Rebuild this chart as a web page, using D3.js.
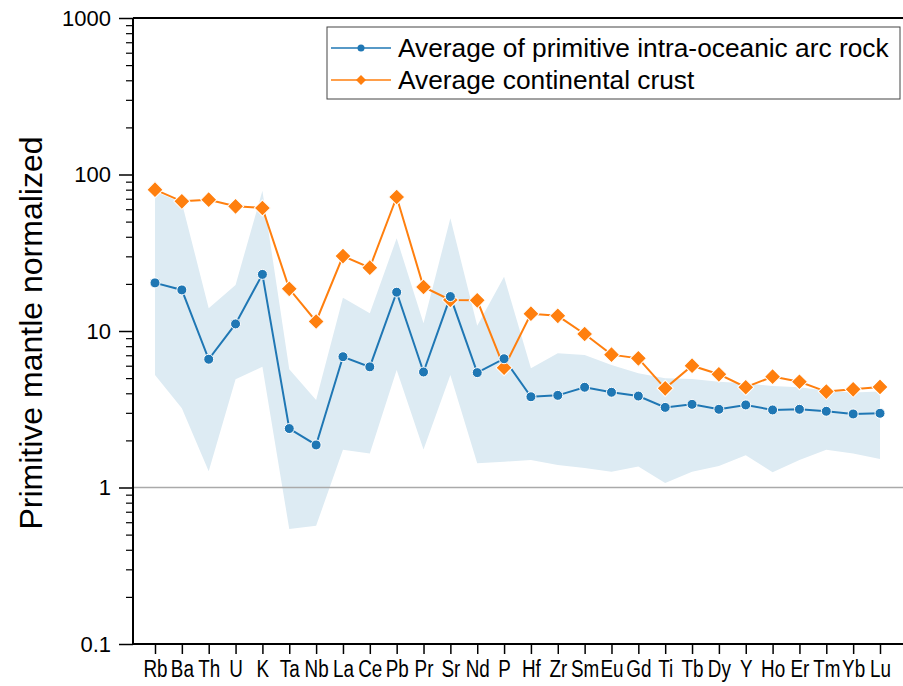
<!DOCTYPE html>
<html><head><meta charset="utf-8">
<script src="https://cdn.jsdelivr.net/npm/d3@7"></script>
<style>body{margin:0;background:#fff;} svg{display:block;}</style>
</head><body>
<svg id="chart" width="903" height="686"></svg>
<script>
const elements = ["Rb","Ba","Th","U","K","Ta","Nb","La","Ce","Pb","Pr","Sr","Nd","P","Hf","Zr","Sm","Eu","Gd","Ti","Tb","Dy","Y","Ho","Er","Tm","Yb","Lu"];
const arcAvg = [20.3,18.3,6.6,11.1,23.0,2.38,1.87,6.85,5.9,17.7,5.47,16.6,5.42,6.65,3.80,3.88,4.37,4.06,3.84,3.25,3.40,3.16,3.37,3.13,3.16,3.07,2.95,2.98];
const crustAvg = [80,67.4,69,62.6,61.1,18.6,11.5,30.1,25.4,71.8,19.1,15.8,15.7,5.83,12.9,12.5,9.57,7.06,6.69,4.30,6.0,5.29,4.37,5.11,4.74,4.10,4.24,4.39];
const arcUpper = [78,66,14.0,19.7,78.8,5.7,3.62,16.3,13.0,39.1,11.2,52.5,10.8,22.2,5.78,7.2,7.03,6.06,5.37,4.99,4.94,4.74,4.63,4.45,4.37,4.15,4.04,4.10];
const arcLower = [5.23,3.21,1.27,4.91,5.91,0.543,0.570,1.74,1.65,5.63,1.75,5.23,1.43,1.46,1.50,1.39,1.33,1.26,1.36,1.07,1.26,1.37,1.61,1.25,1.50,1.74,1.65,1.52];
const yTicks = [0.1,1,10,100,1000];
const seriesNames = ["Average of primitive intra-oceanic arc rock","Average continental crust"];

const svg = d3.select("#chart");
const mLeft = 133, mTop = 18, mBottom = 644, mRight = 930;
const x = d3.scalePoint().domain(elements).range([155, 880]);
const y = d3.scaleLog().domain([0.1, 1000]).range([mBottom, mTop]);
const blue = "#1f77b4", orange = "#ff7f0e";
const FONT = "'Liberation Sans', Arial, sans-serif";

// band
const band = d3.area().x((d,i)=>x(elements[i])).y0((d,i)=>y(arcLower[i])).y1((d,i)=>y(arcUpper[i]));
svg.append("path").attr("d", band(elements)).attr("fill", "#ddebf3");

// reference line at 1
svg.append("line").attr("x1", mLeft).attr("x2", mRight).attr("y1", y(1)).attr("y2", y(1))
  .attr("stroke", "#aaaaaa").attr("stroke-width", 1.5);

// lines
const line = arr => d3.line().x((d,i)=>x(elements[i])).y((d,i)=>y(arr[i]))(elements);
svg.append("path").attr("d", line(crustAvg)).attr("fill","none").attr("stroke",orange).attr("stroke-width",2);
svg.append("path").attr("d", line(arcAvg)).attr("fill","none").attr("stroke",blue).attr("stroke-width",2);

// markers
svg.append("g").selectAll("path").data(crustAvg).join("path")
  .attr("d", d3.symbol().type(d3.symbolSquare).size(130)())
  .attr("transform", (d,i)=>`translate(${x(elements[i])},${y(d)}) rotate(45)`)
  .attr("fill", orange).attr("stroke","#fff").attr("stroke-width",1);
svg.append("g").selectAll("circle").data(arcAvg).join("circle")
  .attr("cx", (d,i)=>x(elements[i])).attr("cy", d=>y(d)).attr("r", 5)
  .attr("fill", blue).attr("stroke","#fff").attr("stroke-width",1);

// frame
svg.append("line").attr("x1", mLeft).attr("x2", mRight).attr("y1", mTop).attr("y2", mTop).attr("stroke","#000").attr("stroke-width",2);
svg.append("line").attr("x1", mLeft).attr("x2", mRight).attr("y1", mBottom).attr("y2", mBottom).attr("stroke","#000").attr("stroke-width",2);

// y axis
const minor = [];
for (let e = -1; e < 3; e++) for (let k = 2; k < 10; k++) minor.push(k * Math.pow(10, e));
const yAxis = d3.axisLeft(y).tickValues(yTicks).tickSize(14).tickPadding(8).tickFormat(d => d < 1 ? "0.1" : d3.format("d")(d));
const gy = svg.append("g").attr("transform", `translate(${mLeft},0)`).call(yAxis);
gy.select(".domain").attr("stroke-width", 2).attr("d", `M0,${mBottom}V${mTop}`);
gy.selectAll(".tick line").attr("stroke-width", 1.5);
gy.selectAll("text").style("font-family",FONT).style("font-size", "22px").attr("fill","#000");
const gm = svg.append("g").attr("transform", `translate(${mLeft},0)`).call(d3.axisLeft(y).tickValues(minor).tickSize(7).tickFormat(""));
gm.select(".domain").remove();
gm.selectAll(".tick line").attr("stroke-width", 1.2);

// x axis
const gx = svg.append("g").attr("transform", `translate(0,${mBottom})`).call(d3.axisBottom(x).tickSize(10).tickPadding(7));
gx.select(".domain").remove();
gx.selectAll(".tick line").attr("stroke-width", 1.5);
gx.selectAll("text").style("font-family",FONT).style("font-size", "23px").attr("fill","#000")
  .attr("transform", "scale(0.82,1)");

// y title
svg.append("text").attr("transform", "translate(42,333) rotate(-90)").attr("text-anchor","middle")
  .style("font-family",FONT).style("font-size", "32px").text("Primitive mantle normalized");

// legend
const lg = svg.append("g");
lg.append("rect").attr("x", 327).attr("y", 27).attr("width", 573).attr("height", 72).attr("fill","#fff").attr("stroke","#444").attr("stroke-width",1);
const rows = [{c: blue, t: seriesNames[0], y: 48, m: "circle"}, {c: orange, t: seriesNames[1], y: 80, m: "diamond"}];
rows.forEach(r => {
  lg.append("line").attr("x1", 331).attr("x2", 391).attr("y1", r.y).attr("y2", r.y).attr("stroke", r.c).attr("stroke-width", 1.5);
  if (r.m === "circle") lg.append("circle").attr("cx", 361).attr("cy", r.y).attr("r", 3.5).attr("fill", r.c);
  else lg.append("path").attr("d", d3.symbol().type(d3.symbolSquare).size(50)()).attr("transform", `translate(361,${r.y}) rotate(45)`).attr("fill", r.c);
  lg.append("text").attr("x", 398).attr("y", r.y + 9).style("font-family",FONT).style("font-size", "26.3px").attr("fill","#000").text(r.t);
});
</script>
</body></html>
